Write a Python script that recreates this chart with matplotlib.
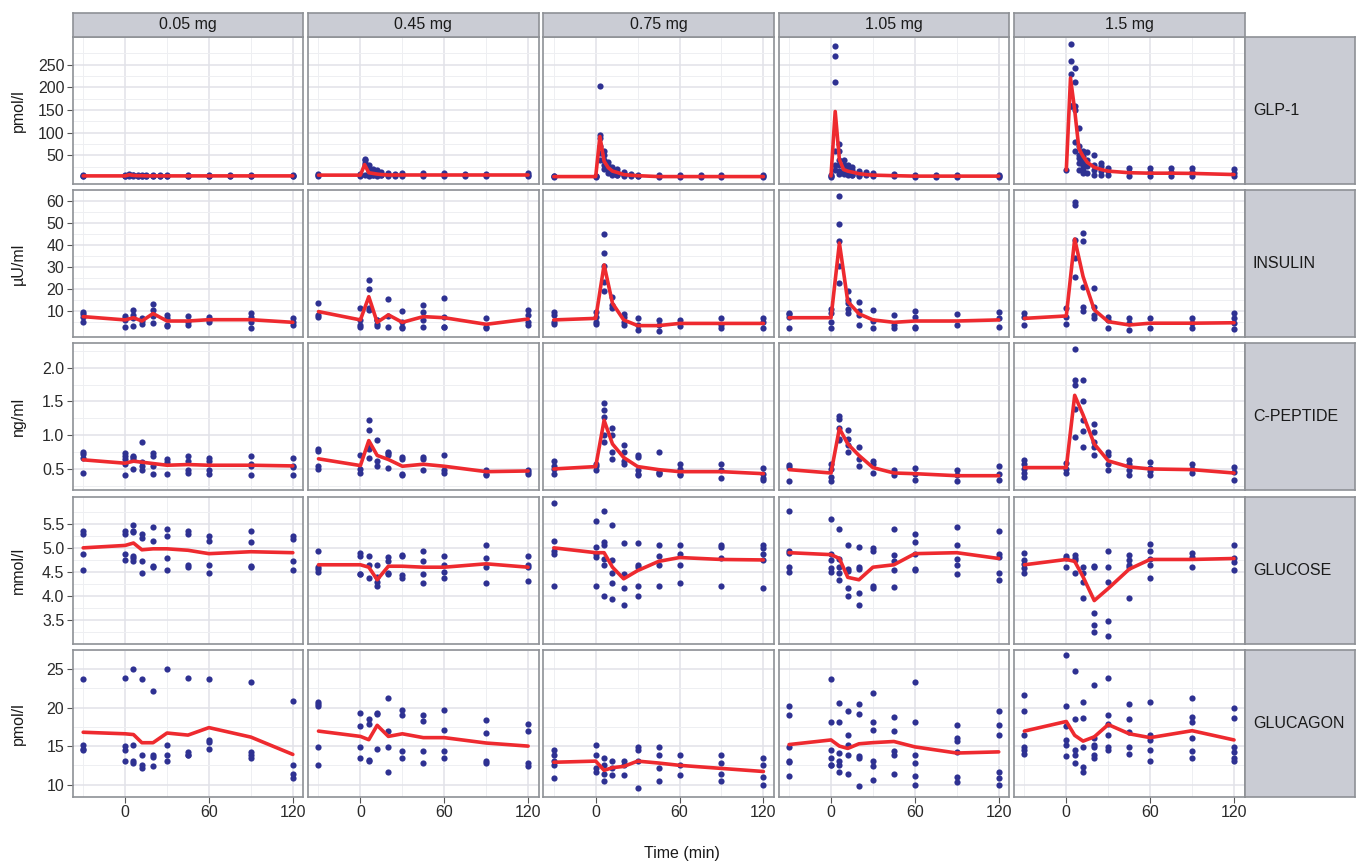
import numpy as np
import matplotlib
matplotlib.use("Agg")
import matplotlib.pyplot as plt

plt.rcParams['font.family'] = ['Liberation Sans', 'DejaVu Sans']

# ---------------- data ----------------
doses = ["0.05 mg", "0.45 mg", "0.75 mg", "1.05 mg", "1.5 mg"]
analytes = ["GLP-1", "INSULIN", "C-PEPTIDE", "GLUCOSE", "GLUCAGON"]
units = ["pmol/l", "\u00b5U/ml", "ng/ml", "mmol/l", "pmol/l"]

time_std = [-30, 0, 6, 12, 20, 30, 45, 60, 90, 120]
time_glp = [-30, 0, 3, 6, 9, 12, 15, 20, 25, 30, 45, 60, 75, 90, 120]

nan = float("nan")

glp1_mean = {
    "0.05 mg": [5, 5, 7.5, 6, 5.5, 5.5, 5, 5, 5, 5, 5, 5, 5, 5, 5],
    "0.45 mg": [6.7, 6.7, 30, 12, 10.5, 9, 8, 7, 7, 7, 7, 7, 7, 7, 7],
    "0.75 mg": [3.5, 3.5, 92, 37.5, 23, 15.5, 13, 8, 6.5, 5.5, 3.5, 3.5, 3.5, 3.5, 3.5],
    "1.05 mg": [nan, 5, 147, 41, 19, 15.5, 13.4, 9.8, 8, 6.7, 5.5, 4.5, 4.5, 4.5, 4.5],
    "1.5 mg": [nan, 17.7, 221, 150, 65, 48, 35, 24, 19, 15.5, 12, 11, 11, 10.5, 8],
}
glp1_pts = {
    "0.05 mg": [[6, 5, 4], [6, 5, 4], [10, 7, 5], [8, 6, 4], [7, 5, 4], [7, 5, 4], [6, 5, 4],
                [6, 5, 4], [6, 5, 4], [6, 5, 4], [6, 5, 4], [6, 5, 4], [6, 5, 4], [6, 5, 4], [6, 5, 4]],
    "0.45 mg": [[10, 7, 5], [9, 7, 5], [43, 39, 34, 29, 8], [29, 23, 15, 8, 5], [20, 15, 8, 6],
                [17, 12, 8, 5], [13, 8, 6], [12, 8, 5], [10, 7, 5], [11, 7, 5], [11, 7, 5],
                [11, 7, 5], [10, 7, 5], [10, 7, 5], [11, 7, 5]],
    "0.75 mg": [[5, 4, 3], [5, 4, 3], [204, 96, 88, 70, 55, 40], [60, 50, 40, 30, 20],
                [35, 28, 22, 18, 12], [25, 18, 14, 10, 8], [20, 14, 12, 8, 6], [14, 9, 6, 4],
                [9, 6, 4], [8, 5, 4], [6, 4, 3], [6, 4, 3], [6, 4, 3], [6, 4, 3], [6, 4, 3]],
    "1.05 mg": [[], [7, 5, 3], [292, 270, 213, 60, 30, 17], [75, 60, 40, 30, 15, 10],
                [40, 30, 22, 15, 10], [28, 20, 15, 10, 8], [25, 18, 12, 8, 6], [16, 12, 8, 5],
                [14, 9, 6], [11, 7, 5], [9, 6, 4], [7, 5, 3], [7, 5, 3], [7, 5, 3], [7, 5, 3]],
    "1.5 mg": [[], [18], [296, 259, 230, 160, 160], [243, 211, 160, 150, 80, 60],
               [110, 70, 52, 45, 34, 19], [59, 48, 40, 34, 26, 19, 12], [57, 40, 26, 12],
               [50, 28, 19, 6], [34, 26, 16, 6], [23, 16, 6], [23, 14, 5], [23, 14, 5],
               [23, 14, 5], [23, 14, 5], [20, 12, 5]],
}

insulin_mean = {
    "0.05 mg": [7.4, 5.9, 6.9, 5.4, 8.8, 5.4, 5.4, 6.0, 6.0, 4.8],
    "0.45 mg": [9.7, 5.9, 16.5, 4.8, 8.2, 4.8, 7.4, 6.9, 3.9, 6.3],
    "0.75 mg": [5.9, 6.6, 31, 13.5, 5.9, 3.3, 3.3, 4.3, 4.3, 4.3],
    "1.05 mg": [6.9, 6.9, 41, 14.3, 8.7, 5.9, 4.8, 5.4, 5.4, 5.9],
    "1.5 mg": [6.6, 7.7, 42.8, 25.7, 10.5, 5.1, 3.6, 4.4, 4.4, 4.6],
}
insulin_pts = {
    "0.05 mg": [[9.7, 8.5, 7.4, 5.1], [7.7, 6.9, 5.9, 2.5], [10.5, 8.2, 6.9, 3.1], [6.9, 5.4, 3.9],
                [13.3, 10.3, 7.5, 4.4], [8.2, 6.9, 3.5, 2.9], [7.9, 5.1, 3.6], [7.4, 5.9, 4.8],
                [9.0, 7.4, 5.1, 2.1], [6.6, 4.8, 3.6]],
    "0.45 mg": [[13.7, 8.2, 7.2], [11.5, 6.0, 3.6, 2.5], [24.2, 19.9, 11.5, 10.5], [6.0, 5.9, 3.9, 3.3],
                [15.5, 7.9, 2.5], [10.0, 4.8, 2.5, 2.0], [12.8, 9.5, 5.9, 2.5], [15.8, 7.4, 2.8, 2.5],
                [6.6, 2.8, 2.4], [10.5, 8.2, 5.1, 3.6]],
    "0.75 mg": [[9.7, 8.2, 5.1, 3.9], [9.7, 7.4, 5.1, 3.9], [45.2, 36.4, 30.3, 23.4, 19.2],
                [16.5, 12.7, 11.2], [8.7, 7.4, 5.1, 3.6], [6.6, 3.6, 1.4], [5.9, 3.6, 0.9],
                [5.9, 3.3], [6.6, 3.6, 2.1], [6.6, 4.8, 2.1]],
    "1.05 mg": [[9.2, 8.7, 7.2, 2.2], [11.0, 9.0, 5.1, 2.1], [62.3, 49.7, 41.7, 30.3, 22.7],
                [19.0, 15.0, 13.5, 11.0, 9.0], [14.0, 10.0, 8.2, 3.6], [10.5, 5.4, 2.1],
                [8.2, 3.6, 2.4], [10.0, 7.4, 2.8, 2.0], [8.5, 3.6], [9.4, 6.6, 2.8]],
    "1.5 mg": [[9.0, 7.4, 3.6], [11.2, 7.4, 4.0], [59.6, 58.5, 42.5, 34.1, 25.4],
               [45.8, 42.0, 21.0, 12.0, 10.0], [20.4, 12.0, 8.2, 6.7], [7.4, 5.9, 2.1],
               [6.7, 4.4, 1.4], [6.7, 2.1], [6.7, 4.4, 2.1], [9.0, 6.7, 4.4, 1.7]],
}

cpep_mean = {
    "0.05 mg": [0.635, 0.585, 0.615, 0.60, 0.58, 0.555, 0.565, 0.555, 0.555, 0.545],
    "0.45 mg": [0.65, 0.55, 0.92, 0.70, 0.64, 0.54, 0.57, 0.54, 0.46, 0.47],
    "0.75 mg": [0.50, 0.535, 1.22, 0.87, 0.67, 0.535, 0.49, 0.46, 0.46, 0.43],
    "1.05 mg": [0.49, 0.44, 1.10, 0.87, 0.70, 0.52, 0.44, 0.43, 0.40, 0.40],
    "1.5 mg": [0.52, 0.52, 1.59, 1.30, 0.87, 0.62, 0.53, 0.50, 0.49, 0.44],
}
cpep_pts = {
    "0.05 mg": [[0.75, 0.72, 0.66, 0.44], [0.73, 0.69, 0.65, 0.58, 0.41], [0.69, 0.67, 0.65, 0.5],
                [0.9, 0.6, 0.55, 0.49], [0.73, 0.69, 0.55, 0.43], [0.64, 0.6, 0.43],
                [0.69, 0.62, 0.48, 0.44], [0.66, 0.62, 0.48, 0.43], [0.69, 0.58, 0.55, 0.41],
                [0.66, 0.55, 0.53, 0.41]],
    "0.45 mg": [[0.8, 0.76, 0.54, 0.5], [0.7, 0.5, 0.44], [1.22, 1.08, 0.85, 0.8, 0.66],
                [0.93, 0.62, 0.55], [0.75, 0.74, 0.7, 0.52], [0.67, 0.64, 0.43, 0.41],
                [0.67, 0.64, 0.49], [0.7, 0.48, 0.44], [0.49, 0.43, 0.41], [0.49, 0.45, 0.43]],
    "0.75 mg": [[0.62, 0.54, 0.5, 0.43], [0.58, 0.54, 0.48], [1.47, 1.37, 1.27, 1.0, 0.9],
                [1.1, 1.0, 0.75, 0.65], [0.86, 0.75, 0.62, 0.58], [0.7, 0.67, 0.48, 0.43, 0.41],
                [0.75, 0.46, 0.44, 0.42], [0.58, 0.5, 0.43, 0.41], [0.58, 0.48, 0.37],
                [0.52, 0.43, 0.37, 0.34]],
    "1.05 mg": [[0.565, 0.525, 0.32], [0.58, 0.5, 0.38, 0.32], [1.28, 1.24, 1.1, 0.95, 0.93],
                [1.08, 0.94, 0.86, 0.75], [0.82, 0.65, 0.55], [0.62, 0.58, 0.44], [0.48, 0.41],
                [0.52, 0.43, 0.34], [0.48, 0.41, 0.32], [0.55, 0.43, 0.34]],
    "1.5 mg": [[0.63, 0.58, 0.5, 0.44, 0.38], [0.59, 0.5, 0.44], [2.27, 1.81, 1.74, 1.39, 0.98],
               [1.82, 1.5, 1.22, 1.06, 0.82], [1.17, 1.04, 0.9, 0.82, 0.7], [0.75, 0.7, 0.58, 0.48],
               [0.63, 0.58, 0.48, 0.41], [0.6, 0.52, 0.47, 0.41], [0.57, 0.5, 0.44],
               [0.53, 0.46, 0.33]],
}

glucose_mean = {
    "0.05 mg": [5.0, 5.05, 5.1, 4.96, 4.98, 4.98, 4.95, 4.88, 4.92, 4.9],
    "0.45 mg": [4.65, 4.65, 4.6, 4.34, 4.62, 4.62, 4.6, 4.6, 4.67, 4.6],
    "0.75 mg": [5.0, 4.9, 4.9, 4.6, 4.36, 4.53, 4.72, 4.8, 4.76, 4.75],
    "1.05 mg": [4.9, 4.86, 4.78, 4.39, 4.34, 4.6, 4.65, 4.88, 4.9, 4.78],
    "1.5 mg": [4.65, 4.76, 4.72, 4.4, 3.91, 4.16, 4.56, 4.76, 4.76, 4.78],
}
glucose_pts = {
    "0.05 mg": [[5.34, 5.29, 4.88, 4.54], [5.34, 5.28, 4.88, 4.74], [5.48, 5.35, 5.32, 4.84, 4.79, 4.72],
                [5.28, 5.2, 4.72, 4.49], [5.43, 5.15, 4.63, 4.6], [5.38, 5.24, 4.79, 4.54],
                [5.34, 5.28, 4.65, 4.6], [5.24, 5.15, 4.65, 4.49], [5.34, 5.13, 4.63, 4.6],
                [5.24, 5.19, 4.72, 4.54]],
    "0.45 mg": [[4.94, 4.61, 4.56, 4.51], [4.89, 4.84, 4.45, 4.45], [4.83, 4.65, 4.37],
                [4.65, 4.4, 4.3, 4.22], [4.82, 4.72, 4.49, 4.45], [4.85, 4.83, 4.43, 4.37],
                [4.94, 4.72, 4.45, 4.28], [4.83, 4.65, 4.51, 4.37], [5.05, 4.78, 4.6, 4.28],
                [4.83, 4.65, 4.6, 4.32]],
    "0.75 mg": [[5.93, 5.15, 4.94, 4.88, 4.22], [5.55, 5.01, 4.88, 4.82, 4.22],
                [5.77, 5.12, 5.05, 4.77, 4.65, 4.0], [5.48, 4.74, 4.49, 4.28, 3.95],
                [5.1, 4.46, 4.18, 3.82], [5.1, 4.65, 4.6, 4.22, 4.0], [5.05, 4.84, 4.65, 4.22],
                [5.05, 4.88, 4.65, 4.27], [5.05, 5.01, 4.78, 4.22], [5.05, 5.0, 4.88, 4.74, 4.17]],
    "1.05 mg": [[5.77, 4.94, 4.89, 4.6, 4.51], [5.6, 4.88, 4.74, 4.58, 4.51],
                [5.38, 4.77, 4.6, 4.49, 4.33], [5.05, 4.56, 4.53, 4.16, 4.0],
                [5.01, 4.6, 4.56, 4.06, 3.82], [5.0, 4.94, 4.21, 4.17], [5.38, 4.85, 4.72, 4.55, 4.2],
                [5.29, 5.12, 4.88, 4.56, 4.55], [5.43, 5.05, 4.77, 4.65, 4.45],
                [5.34, 4.88, 4.82, 4.49, 4.33]],
    "1.5 mg": [[4.89, 4.74, 4.67, 4.59, 4.47], [4.84, 4.8, 4.6], [4.85, 4.79, 4.74, 4.49],
               [4.61, 4.49, 4.29, 3.96], [4.62, 4.6, 3.66, 3.4, 3.27], [4.94, 4.6, 4.29, 3.49, 3.17],
               [4.85, 4.74, 4.65, 4.6, 3.96], [5.07, 4.94, 4.77, 4.65, 4.38], [4.89, 4.82, 4.6],
               [5.05, 4.8, 4.7, 4.55]],
}

glucagon_mean = {
    "0.05 mg": [16.8, 16.6, 16.5, 15.44, 15.44, 16.7, 16.43, 17.4, 16.17, 13.92],
    "0.45 mg": [16.95, 16.26, 15.83, 17.7, 16.26, 16.6, 16.1, 16.1, 15.4, 15.0],
    "0.75 mg": [12.9, 13.05, 11.85, 12.2, 12.36, 13.05, 12.8, 12.5, 12.1, 11.7],
    "1.05 mg": [15.2, 15.8, 15.0, 14.7, 15.3, 15.45, 15.6, 14.9, 14.1, 14.25],
    "1.5 mg": [16.95, 18.2, 16.4, 15.65, 16.2, 17.8, 16.6, 16.1, 17.0, 15.8],
}
glucagon_pts = {
    "0.05 mg": [[23.7, 15.2, 14.66, 14.44], [23.8, 15.0, 14.5, 13.1], [25.05, 15.2, 13.1, 12.8],
                [23.7, 13.8, 12.5, 12.1], [22.1, 13.9, 13.6, 12.4], [25.05, 15.2, 13.8, 13.1],
                [23.8, 14.2, 13.9, 13.8], [23.7, 15.5, 15.8, 14.6], [23.3, 14.2, 13.8, 13.4],
                [20.9, 12.5, 11.4, 10.9]],
    "0.45 mg": [[20.7, 20.5, 20.2, 14.9, 12.5], [19.3, 17.6, 14.9, 13.4], [18.56, 17.9, 13.23, 13.05],
                [19.3, 19.2, 14.6], [21.3, 16.9, 14.9, 11.7], [19.65, 19.0, 14.3, 13.4],
                [19.0, 18.2, 14.4, 12.8], [19.65, 17.1, 14.3, 13.4], [18.4, 16.7, 13.05, 12.8],
                [17.9, 16.9, 12.8, 12.4]],
    "0.75 mg": [[14.44, 13.8, 13.0, 12.6, 10.9], [15.2, 13.8, 12.1, 11.6], [13.4, 12.5, 11.4, 10.5],
                [13.1, 12.1, 11.2], [13.0, 12.5, 11.3], [14.9, 14.5, 13.1, 9.5],
                [14.9, 13.8, 12.1, 10.5], [13.8, 12.5, 11.2], [13.8, 12.8, 11.4, 10.5],
                [13.4, 12.5, 11.0, 9.9]],
    "1.05 mg": [[20.2, 19.1, 14.9, 13.05, 12.9, 11.1], [23.7, 18.1, 14.5, 13.4, 12.5, 12.6],
                [20.6, 18.1, 14.1, 13.05, 12.5, 11.7], [19.5, 16.4, 15.1, 13.8, 11.4],
                [20.5, 19.2, 13.7, 13.4, 9.8], [21.9, 18.1, 17.1, 13.1, 12.4, 10.6],
                [18.8, 16.9, 14.4, 13.8, 11.4], [23.3, 18.1, 13.8, 12.8, 11.1, 10.0],
                [17.8, 16.0, 15.7, 14.2, 11.0, 10.3], [19.5, 17.8, 16.4, 11.7, 10.0, 10.8]],
    "1.5 mg": [[21.6, 19.5, 16.4, 14.9, 14.44, 14.0], [26.8, 20.2, 17.6, 15.8, 15.2, 13.7],
               [24.7, 18.5, 14.5, 13.8, 12.8], [20.7, 18.7, 14.9, 12.3, 11.7],
               [23.0, 16.0, 15.2, 14.9, 13.8, 13.4], [23.8, 19.1, 17.9, 16.4, 14.9, 14.5],
               [20.5, 18.5, 16.8, 14.9, 14.0], [20.7, 16.5, 15.8, 14.5, 13.1],
               [21.3, 18.8, 18.1, 16.1, 14.4, 13.4], [19.9, 18.7, 14.9, 14.2, 13.4, 13.05]],
}

y_ticks = [[50, 100, 150, 200, 250], [10, 20, 30, 40, 50, 60], [0.5, 1.0, 1.5, 2.0],
           [3.5, 4.0, 4.5, 5.0, 5.5], [10, 15, 20, 25]]
y_ticklabels = [["50", "100", "150", "200", "250"], ["10", "20", "30", "40", "50", "60"],
                ["0.5", "1.0", "1.5", "2.0"], ["3.5", "4.0", "4.5", "5.0", "5.5"],
                ["10", "15", "20", "25"]]
x_ticks = [0, 60, 120]

# ---------------- layout / style ----------------
means = [glp1_mean, insulin_mean, cpep_mean, glucose_mean, glucagon_mean]
points = [glp1_pts, insulin_pts, cpep_pts, glucose_pts, glucagon_pts]
times = [time_glp, time_std, time_std, time_std, time_std]
ylims = [(-12.2, 312), (-1.9, 65.2), (0.184, 2.36), (3.02, 6.06), (8.4, 27.5)]

W, H = 1356, 863
fig = plt.figure(figsize=(W / 100, H / 100), dpi=100)

def px_axes(x0, y0, w, h):
    return fig.add_axes([x0 / W, 1 - (y0 + h) / H, w / W, h / H])

col_left0, col_step, col_w = 72.7, 235.3, 230.6
row_top0, row_step, row_h = 36.7, 153.3, 147.0
strip_top, strip_h = 12.7, 24.0
rstrip_x, rstrip_w = 1245.0, 110.0

border = "#8E9196"
strip_fill = "#CACCD4"
grid_major = "#E1E2E8"
grid_minor = "#EEEFF2"
pt_color = "#2E3192"
ln_color = "#EE2A2F"
txt = "#1A1A1A"
FS = 11.5

def minor_breaks(major, lim):
    b = list(major)
    d = b[1] - b[0]
    b = [b[0] - d] + b + [b[-1] + d]
    out = []
    for a, c in zip(b[:-1], b[1:]):
        out.append((a + c) / 2)
    return [m for m in out if lim[0] <= m <= lim[1]]

for r in range(5):
    for c, dose in enumerate(doses):
        x0 = col_left0 + c * col_step
        y0 = row_top0 + r * row_step
        ax = px_axes(x0, y0, col_w, row_h)
        ax.set_xlim(-37.5, 127.5)
        ax.set_ylim(*ylims[r])
        ax.set_xticks(x_ticks)
        ax.set_xticks(minor_breaks(x_ticks, (-37.5, 127.5)), minor=True)
        ax.set_yticks(y_ticks[r])
        ax.set_yticks(minor_breaks(y_ticks[r], ylims[r]), minor=True)
        ax.set_axisbelow(True)
        ax.grid(which="minor", color=grid_minor, lw=0.7)
        ax.grid(which="major", color=grid_major, lw=1.1)
        for s in ax.spines.values():
            s.set_color(border)
            s.set_linewidth(1.2)
        ax.tick_params(which="minor", length=0)
        ax.tick_params(which="major", color="#555555", length=4, width=0.8,
                       labelsize=FS, labelcolor="#2A2A2A", pad=2)
        if c == 0:
            ax.set_yticklabels(y_ticklabels[r])
        else:
            ax.tick_params(axis="y", left=False, labelleft=False)
        if r == 4:
            ax.set_xticklabels([str(t) for t in x_ticks])
        else:
            ax.tick_params(axis="x", bottom=False, labelbottom=False)

        tt = times[r]
        xs, ys = [], []
        for t, vals in zip(tt, points[r][dose]):
            for v in vals:
                xs.append(t)
                ys.append(v)
        ax.scatter(xs, ys, s=20, color=pt_color, linewidths=0, zorder=3, clip_on=False)
        ax.plot(tt, means[r][dose], color=ln_color, lw=2.6, zorder=4,
                solid_joinstyle="round", solid_capstyle="round")

        if c == 0:
            fig.text(18 / W, 1 - (y0 + row_h / 2) / H, units[r], rotation=90,
                     ha="center", va="center", fontsize=FS, color=txt)

    # right strip
    sax = px_axes(rstrip_x, row_top0 + r * row_step, rstrip_w, row_h)
    sax.set_facecolor(strip_fill)
    sax.set_xticks([]); sax.set_yticks([])
    for s in sax.spines.values():
        s.set_color(border); s.set_linewidth(1.2)
    sax.text(8 / rstrip_w, 0.5, analytes[r], transform=sax.transAxes, ha="left",
             va="center", fontsize=FS, color=txt)

for c, dose in enumerate(doses):
    tax = px_axes(col_left0 + c * col_step, strip_top, col_w, strip_h)
    tax.set_facecolor(strip_fill)
    tax.set_xticks([]); tax.set_yticks([])
    for s in tax.spines.values():
        s.set_color(border); s.set_linewidth(1.2)
    tax.text(0.5, 0.5, dose, transform=tax.transAxes, ha="center", va="center",
             fontsize=FS, color=txt)

fig.text(682 / W, 1 - 853 / H, "Time (min)", ha="center", va="center", fontsize=FS, color=txt)

fig.savefig("out.png", dpi=100)
